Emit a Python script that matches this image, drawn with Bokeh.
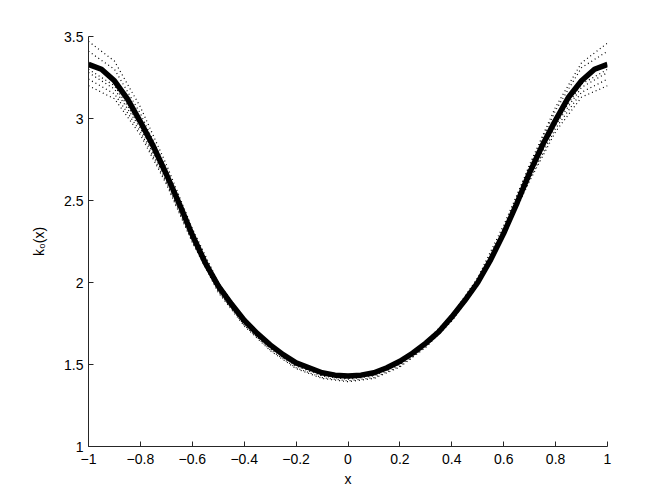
from bokeh.plotting import figure
from bokeh.models import Range1d, FixedTicker
from bokeh.embed import file_html
from bokeh.resources import INLINE

# main curve k0(x), sampled every 0.05
x_main = [-1.00, -0.95, -0.90, -0.85, -0.80, -0.75, -0.70, -0.65, -0.60, -0.55,
          -0.50, -0.45, -0.40, -0.35, -0.30, -0.25, -0.20, -0.15, -0.10, -0.05,
          0.00, 0.05, 0.10, 0.15, 0.20, 0.25, 0.30, 0.35, 0.40, 0.45,
          0.50, 0.55, 0.60, 0.65, 0.70, 0.75, 0.80, 0.85, 0.90, 0.95, 1.00]
k0_main = [3.33, 3.30, 3.23, 3.12, 2.98, 2.83, 2.66, 2.48, 2.29, 2.12,
           1.98, 1.87, 1.77, 1.69, 1.62, 1.56, 1.51, 1.48, 1.45, 1.435,
           1.43, 1.435, 1.45, 1.48, 1.52, 1.57, 1.63, 1.70, 1.79, 1.89,
           2.00, 2.14, 2.30, 2.48, 2.67, 2.84, 2.99, 3.13, 3.23, 3.30, 3.33]

# dotted sample curves, sampled every 0.1
x_samp = [-1.0, -0.9, -0.8, -0.7, -0.6, -0.5, -0.4, -0.3, -0.2, -0.1,
          0.0, 0.1, 0.2, 0.3, 0.4, 0.5, 0.6, 0.7, 0.8, 0.9, 1.0]
samp1 = [3.47, 3.35, 3.07, 2.72, 2.33, 2.00, 1.78, 1.625, 1.51, 1.45, 1.43,
         1.45, 1.52, 1.635, 1.80, 2.02, 2.33, 2.72, 3.07, 3.34, 3.46]
samp2 = [3.41, 3.30, 3.03, 2.695, 2.31, 1.99, 1.77, 1.62, 1.51, 1.45, 1.43,
         1.45, 1.52, 1.64, 1.80, 2.03, 2.35, 2.71, 3.05, 3.31, 3.41]
samp3 = [3.28, 3.18, 2.94, 2.625, 2.26, 1.95, 1.74, 1.59, 1.48, 1.42, 1.40,
         1.42, 1.49, 1.61, 1.77, 1.99, 2.30, 2.645, 2.96, 3.19, 3.28]
samp4 = [3.20, 3.12, 2.90, 2.60, 2.245, 1.94, 1.735, 1.585, 1.475, 1.415, 1.395,
         1.415, 1.485, 1.605, 1.765, 1.98, 2.285, 2.62, 2.92, 3.13, 3.20]
samp5 = [3.24, 3.15, 2.92, 2.61, 2.25, 1.945, 1.745, 1.60, 1.49, 1.43, 1.41,
         1.43, 1.50, 1.62, 1.775, 1.985, 2.29, 2.63, 2.94, 3.16, 3.24]
samp6 = [3.30, 3.20, 2.955, 2.635, 2.265, 1.96, 1.75, 1.605, 1.495, 1.435, 1.415,
         1.435, 1.505, 1.625, 1.78, 1.995, 2.31, 2.655, 2.975, 3.21, 3.30]
samples = [samp1, samp2, samp3, samp4, samp5, samp6]

x_ticks = [-1.0, -0.8, -0.6, -0.4, -0.2, 0.0, 0.2, 0.4, 0.6, 0.8, 1.0]
x_tick_labels = ["\u22121", "\u22120.8", "\u22120.6", "\u22120.4", "\u22120.2",
                 "0", "0.2", "0.4", "0.6", "0.8", "1"]
y_ticks = [1.0, 1.5, 2.0, 2.5, 3.0, 3.5]
y_tick_labels = ["1", "1.5", "2", "2.5", "3", "3.5"]

p = figure(width=654, height=490, output_backend="svg", toolbar_location=None,
           x_range=Range1d(-1, 1), y_range=Range1d(1, 3.5),
           min_border_left=88, min_border_top=36, min_border_right=47,
           min_border_bottom=44)
p.frame_width = 519
p.frame_height = 410
p.outline_line_color = None
p.grid.visible = False
p.background_fill_color = "white"
p.border_fill_color = "white"

for s in samples:
    p.line(x_samp, s, line_color="black", line_width=1.2, line_dash="1 3")
p.line(x_main, k0_main, line_color="black", line_width=5.5)

font = "Liberation Sans"
for ax, ticks, labels in ((p.xaxis[0], x_ticks, x_tick_labels),
                          (p.yaxis[0], y_ticks, y_tick_labels)):
    ax.ticker = FixedTicker(ticks=ticks)
    ax.major_label_overrides = {t: l for t, l in zip(ticks, labels)}
    ax.major_tick_in = 5
    ax.major_tick_out = 0
    ax.minor_tick_line_color = None
    ax.axis_line_color = "#262626"
    ax.major_tick_line_color = "#262626"
    ax.major_label_text_font = font
    ax.major_label_text_font_size = "14px"
    ax.major_label_text_color = "black"
    ax.axis_label_text_font = font
    ax.axis_label_text_font_size = "14px"
    ax.axis_label_text_font_style = "normal"
    ax.axis_label_text_color = "black"

p.xaxis.major_label_standoff = 7
p.xaxis.axis_label = "x"
p.yaxis.axis_label = "k\u2080(x)"
p.xaxis.axis_label_standoff = 4
p.yaxis.axis_label_standoff = 14

open("out.html", "w").write(file_html(p, INLINE))
